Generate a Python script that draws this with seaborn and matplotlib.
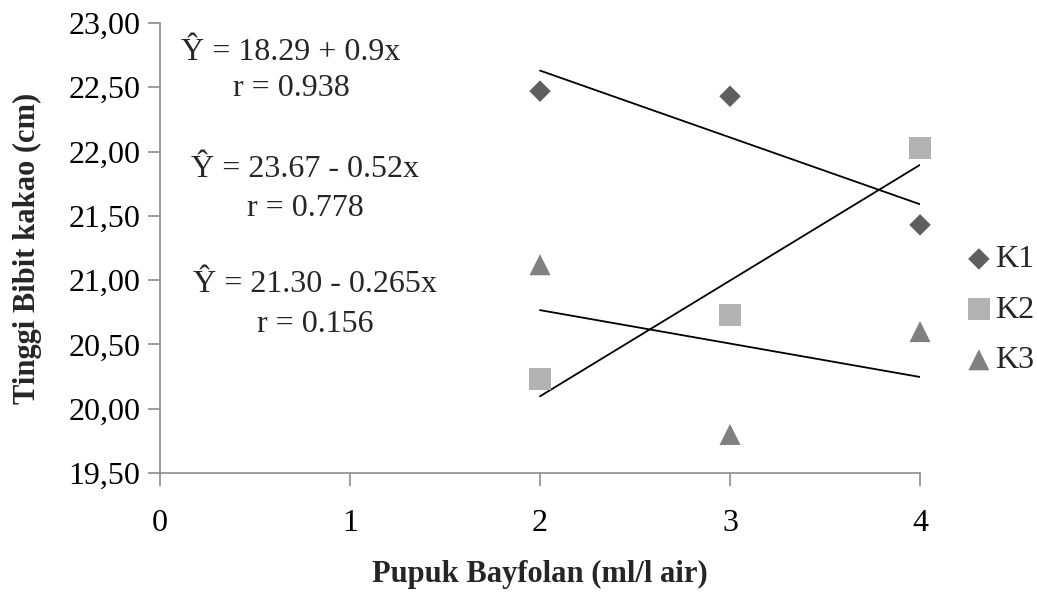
import matplotlib
matplotlib.use("Agg")
import matplotlib.pyplot as plt
import seaborn as sns
import numpy as np
import pandas as pd
from matplotlib.ticker import FuncFormatter, MultipleLocator

# Data
doses = [2, 3, 4]
k1 = [22.47, 22.43, 21.43]
k2 = [20.23, 20.73, 22.03]
k3 = [21.12, 19.80, 20.60]
series_names = ["K1", "K2", "K3"]
equations = [
    ("Ŷ = 18.29 + 0.9x", "r = 0.938"),
    ("Ŷ = 23.67 - 0.52x", "r = 0.778"),
    ("Ŷ = 21.30 - 0.265x", "r = 0.156"),
]

df = pd.DataFrame({
    "x": doses * 3,
    "y": k1 + k2 + k3,
    "seri": sum([[n] * 3 for n in series_names], []),
})

sns.set_theme(style="white")
plt.rcParams["font.family"] = ["Liberation Serif", "DejaVu Serif"]

fig = plt.figure(figsize=(10.37, 5.94), dpi=100)
ax = fig.add_axes([0.1543, 0.2037, 0.8872 - 0.1543, 0.9613 - 0.2037])

colors = {"K1": "#5f5f5f", "K2": "#b3b3b3", "K3": "#808080"}
markers = {"K1": "D", "K2": "s", "K3": "^"}
sizes = {"K1": 120, "K2": 250, "K3": 230}

for n in series_names:
    sub = df[df.seri == n]
    sns.scatterplot(data=sub, x="x", y="y", ax=ax, color=colors[n],
                    marker=markers[n], s=sizes[n], edgecolor="none",
                    linewidth=0, label=n, zorder=3, clip_on=False)
    sns.regplot(data=sub, x="x", y="y", ax=ax, ci=None, scatter=False,
                truncate=True, line_kws=dict(color="black", lw=1.3, zorder=2))

ax.set_xlim(0, 4)
ax.set_ylim(19.5, 23.0)
ax.xaxis.set_major_locator(MultipleLocator(1))
ax.yaxis.set_major_locator(MultipleLocator(0.5))
ax.yaxis.set_major_formatter(FuncFormatter(lambda v, p: f"{v:.2f}".replace(".", ",")))

for s in ["top", "right"]:
    ax.spines[s].set_visible(False)
for s in ["left", "bottom"]:
    ax.spines[s].set_color("#8c8c8c")
    ax.spines[s].set_linewidth(1.2)

ax.tick_params(axis="both", which="major", direction="out", length=9,
               width=1.2, color="#8c8c8c", labelsize=23, labelcolor="black",
               bottom=True, left=True)
ax.tick_params(axis="x", pad=17)
ax.tick_params(axis="y", pad=5)

ax.set_xlabel("Pupuk Bayfolan (ml/l air)", fontsize=22, fontweight="bold", labelpad=16)
ax.set_ylabel("Tinggi Bibit kakao (cm)", fontsize=22, fontweight="bold", labelpad=19)

# Equation annotations (figure pixel positions converted to fraction)
eq_pos = [(291, 52, 88), (305, 170, 208), (315, 284, 325)]
for (eq, r), (cx, y1, y2) in zip(equations, eq_pos):
    fig.text(cx / 1037, 1 - y1 / 594, eq, fontsize=23, ha="center", va="center")
    fig.text(cx / 1037, 1 - y2 / 594, r, fontsize=23, ha="center", va="center")

handles, labels = ax.get_legend_handles_labels()
leg = ax.legend(handles, labels, loc="center left", bbox_to_anchor=(0.9224, 0.478),
                bbox_transform=fig.transFigure, frameon=False, fontsize=23,
                handletextpad=0.2, labelspacing=0.66, borderaxespad=0,
                borderpad=0.4, handlelength=0.6)

fig.savefig("out.png", dpi=100)
